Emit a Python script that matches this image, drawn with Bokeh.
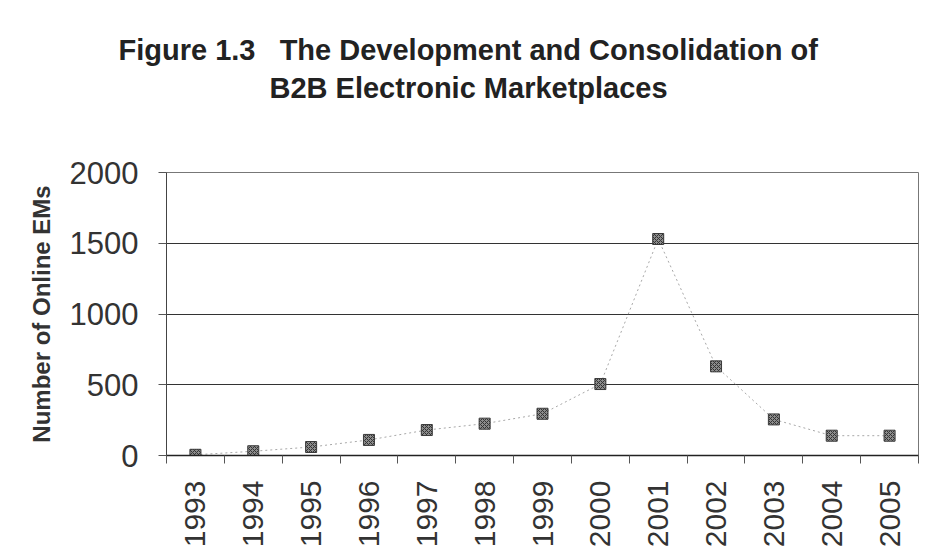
from bokeh.plotting import figure
from bokeh.models import FixedTicker, Title, Range1d
from bokeh.embed import file_html
from bokeh.resources import INLINE

years = [1993, 1994, 1995, 1996, 1997, 1998, 1999, 2000, 2001, 2002, 2003, 2004, 2005]
online_ems = [5, 30, 60, 110, 180, 225, 295, 505, 1530, 630, 255, 140, 140]
y_ticks = [0, 500, 1000, 1500, 2000]
title_line1 = "Figure 1.3\u00a0\u00a0\u00a0The Development and Consolidation of"
title_line2 = "B2B Electronic Marketplaces"
y_label = "Number of Online EMs"

FONT = "Liberation Sans"

p = figure(width=934, height=557, output_backend="svg", toolbar_location=None,
           x_range=Range1d(years[0] - 0.5, years[-1] + 0.5),
           y_range=Range1d(0, 2000),
           min_border_left=166, min_border_right=16, min_border_top=172, min_border_bottom=102)
p.title.visible = False

# stacked from the frame outward: spacer, second title line, first title line
spacer = Title(text="\u00a0", text_font_size="1px", standoff=66)
t2 = Title(text=title_line2, align="left", offset=103, text_font=FONT,
           text_font_size="29px", text_font_style="bold", text_color="#222222", standoff=0)
t1 = Title(text=title_line1, align="left", offset=-48, text_font=FONT,
           text_font_size="29px", text_font_style="bold", text_color="#222222", standoff=8)
p.add_layout(spacer, "above")
p.add_layout(t2, "above")
p.add_layout(t1, "above")

p.line(years, online_ems, line_color="#a8a8a8", line_width=1, line_dash="2 3")
p.scatter(years, online_ems, marker="square", size=11, fill_color="#8c8c8c",
          line_color="#3a3a3a", line_width=1, hatch_pattern="x", hatch_color="#333333",
          hatch_scale=4, hatch_weight=1)

# x axis: labels at category centres, ticks at category boundaries
xa = p.xaxis[0]
xa.ticker = FixedTicker(ticks=years, minor_ticks=[y - 0.5 for y in years] + [years[-1] + 0.5])
xa.major_label_overrides = {y: str(y) for y in years}
xa.major_label_orientation = 1.5708
xa.major_tick_out = 0
xa.major_tick_in = 0
xa.minor_tick_out = 8
xa.minor_tick_in = 0
xa.minor_tick_line_color = "#555555"
xa.major_label_standoff = 17
xa.major_label_text_font = FONT
xa.major_label_text_font_size = "30px"
xa.major_label_text_color = "#333333"
xa.axis_line_color = "#222222"
xa.axis_line_width = 1.5

ya = p.yaxis[0]
ya.ticker = FixedTicker(ticks=y_ticks, minor_ticks=[])
ya.major_tick_out = 8
ya.major_tick_in = 0
ya.major_tick_line_color = "#555555"
ya.major_label_standoff = 20
ya.major_label_text_font = FONT
ya.major_label_text_font_size = "31px"
ya.major_label_text_color = "#333333"
ya.axis_line_color = "#444444"
ya.axis_label = y_label
ya.axis_label_text_font = FONT
ya.axis_label_text_font_size = "24px"
ya.axis_label_text_font_style = "bold"
ya.axis_label_text_color = "#333333"
ya.axis_label_standoff = 12

p.xgrid.visible = False
p.ygrid.grid_line_color = "#333333"
p.ygrid.grid_line_width = 1.2

p.outline_line_color = "#777777"
p.outline_line_width = 1
p.background_fill_color = "white"
p.border_fill_color = "white"

open("out.html", "w").write(file_html(p, INLINE))
